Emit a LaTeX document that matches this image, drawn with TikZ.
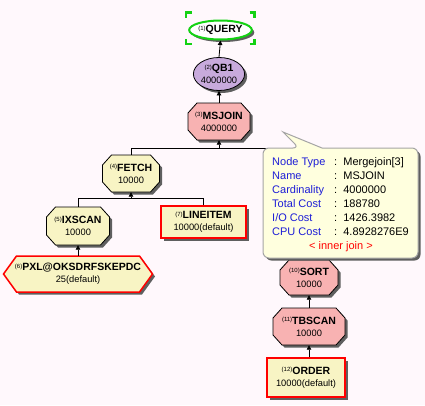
\documentclass[tikz,border=0pt]{standalone}
\usepackage{fontspec}
\setmainfont{Liberation Sans}
\usetikzlibrary{shapes.geometric,shadows,arrows.meta}
\definecolor{bg}{RGB}{255,248,252}
\definecolor{pinkf}{RGB}{248,178,178}
\definecolor{yelf}{RGB}{248,244,196}
\definecolor{purf}{RGB}{200,170,220}
\definecolor{selgreen}{RGB}{20,210,20}
\definecolor{tipfill}{RGB}{255,255,222}
\definecolor{tipborder}{RGB}{165,165,165}
\definecolor{tipblue}{RGB}{30,30,215}
\definecolor{shade}{RGB}{95,95,95}
\newcommand\lbl[2]{{\fontsize{6}{6}\selectfont\raisebox{2.6pt}{(#1)}}{\fontsize{10.5}{12}\selectfont\bfseries #2}}
\newcommand\two[3]{\lbl{#1}{#2}\\{\fontsize{9.3}{12}\selectfont #3}}
% #1 name, #2 x, #3 y, #4 width, #5 height, #6 chamfer x, #7 chamfer y, #8 style, #9 text
\newcommand\chamfnode[9]{%
  \path[#8] ({#2-#4/2+#6},{#3-#5/2}) -- ({#2+#4/2-#6},{#3-#5/2}) -- ({#2+#4/2},{#3-#5/2+#7})
    -- ({#2+#4/2},{#3+#5/2-#7}) -- ({#2+#4/2-#6},{#3+#5/2}) -- ({#2-#4/2+#6},{#3+#5/2})
    -- ({#2-#4/2},{#3+#5/2-#7}) -- ({#2-#4/2},{#3-#5/2+#7}) -- cycle;
  \node[txt,minimum width=#4pt,minimum height=#5pt] (#1) at (#2,#3) {#9};}
\tikzset{
  shd/.style={drop shadow={shadow xshift=2.5pt,shadow yshift=-2.5pt,fill=shade,opacity=1}},
  txt/.style={rectangle,inner sep=0pt,align=center,font=\fontsize{9.3}{12}\selectfont},
  base/.style={shd,txt,line width=0.8pt,draw=black},
  octblack/.style={shd,draw=black,line width=0.8pt,line join=miter},
  octred/.style={shd,draw=red,line width=1.5pt,line join=miter},
  redbox/.style={base,draw=red,line width=1.5pt,fill=yelf},
  conn/.style={line width=0.8pt,-{Triangle[length=4.5pt,width=4.5pt]}},
  plain/.style={line width=0.8pt},
  tiplbl/.style={anchor=base west,inner sep=0pt,text=tipblue,font=\fontsize{11}{13}\selectfont},
  tipval/.style={anchor=base west,inner sep=0pt,text=black,font=\fontsize{11}{13}\selectfont},
  sel/.style={selgreen,line width=2.2pt}
}
\begin{document}
\begin{tikzpicture}[x=1pt,y=-1pt]
\fill[bg] (0,0) rectangle (425,405);
\useasboundingbox (0,0) rectangle (425,405);

% nodes
\node[base,ellipse,fill=white,draw=selgreen,line width=2pt,minimum width=59pt,minimum height=19pt] (query) at (220.5,30) {\lbl{1}{QUERY}};
\node[base,ellipse,fill=purf,minimum width=50pt,minimum height=33pt] (qb1) at (219,74) {\two{2}{QB1}{4000000}};
\chamfnode{msjoin}{219}{121.5}{62}{37}{9}{10}{octblack,fill=pinkf}{\two{3}{MSJOIN}{4000000}}
\chamfnode{fetch}{131}{173.5}{57}{37}{9}{10}{octblack,fill=yelf}{\two{4}{FETCH}{10000}}
\chamfnode{ixscan}{78}{226}{63}{38}{9}{10}{octblack,fill=yelf}{\two{5}{IXSCAN}{10000}}
\node[redbox,minimum width=85pt,minimum height=32pt] (lineitem) at (203.5,222) {\two{7}{LINEITEM}{10000(default)}};
\chamfnode{pxl}{78}{274}{149}{36}{13}{18}{octred,fill=yelf}{\two{6}{PXL@OKSDRFSKEPDC}{25(default)}}
\chamfnode{sort}{309}{277.5}{58}{35}{9}{10}{octblack,fill=pinkf}{\two{10}{SORT}{10000}}
\chamfnode{tbscan}{309}{326.5}{72}{37}{9}{10}{octblack,fill=pinkf}{\two{11}{TBSCAN}{10000}}
\node[redbox,minimum width=78pt,minimum height=39pt] (order) at (306,377.5) {\two{12}{ORDER}{10000(default)}};

% selection marks round QUERY
\draw[sel] (186,17.5) |- (191.5,12.5);
\draw[sel] (249.5,12.5) -| (254.5,17.5);
\draw[sel] (186,39) |- (191.5,44);
\draw[sel] (249.5,44) -| (254.5,39);

% connectors
\coordinate (j1) at (219,148);
\coordinate (j2) at (131,198);
\draw[conn] (qb1.north) -- (query.south);
\draw[conn] (msjoin.north) -- (qb1.south);
\draw[conn] (fetch.north) |- (j1) -- (msjoin.south);
\draw[plain] (sort.north) |- (j1);
\draw[conn] (ixscan.north) |- (j2) -- (fetch.south);
\draw[plain] (lineitem.north) |- (j2);
\draw[conn] (pxl.north) -- (ixscan.south);
\draw[conn] (tbscan.north) -- (sort.south);
\draw[conn] (order.north -| tbscan.south) -- (tbscan.south);

% tooltip
\draw[shd,fill=tipfill,draw=tipborder,line width=1pt] (263,200) [rounded corners=6pt] -- (263,148) -- (299,148) [sharp corners] -- (283,132) -- (322,148) [rounded corners=6pt] -- (418,148) -- (418,258) -- (263,258) -- cycle;
\node[tiplbl] (k1) at (272,165) {Node Type};
\node[tiplbl] (k2) at (272,179) {Name};
\node[tiplbl] (k3) at (272,193) {Cardinality};
\node[tiplbl] (k4) at (272,207) {Total Cost};
\node[tiplbl] (k5) at (272,221) {I/O Cost};
\node[tiplbl] (k6) at (272,235) {CPU Cost};
\node[tipval] (v1) at (334,165) {:\ \ Mergejoin[3]};
\node[tipval] (v2) at (334,179) {:\ \ MSJOIN};
\node[tipval] (v3) at (334,193) {:\ \ 4000000};
\node[tipval] (v4) at (334,207) {:\ \ 188780};
\node[tipval] (v5) at (334,221) {:\ \ 1426.3982};
\node[tipval] (v6) at (334,235) {:\ \ 4.8928276E9};
\node[anchor=base,inner sep=0pt,text=red,font=\fontsize{11}{13}\selectfont] (ij) at (341,249) {< inner join >};
\end{tikzpicture}
\end{document}
